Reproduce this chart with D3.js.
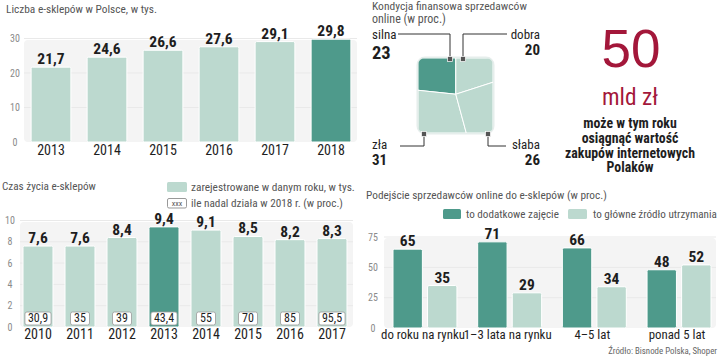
<!DOCTYPE html>
<html><head><meta charset="utf-8">
<script src="https://cdn.jsdelivr.net/npm/d3@7"></script>
<style>
html,body{margin:0;padding:0;background:#fff;}
svg{display:block;}
text{font-family:"Roboto",sans-serif;font-stretch:condensed;}
</style></head>
<body><svg id="c" width="720" height="357"></svg>
<script>
// ---- data ----
const shopYears = ["2013","2014","2015","2016","2017","2018"];
const shopCounts = [21.7, 24.6, 26.6, 27.6, 29.1, 29.8];
const shopTicks = [0, 10, 20, 30];

const lifeYears = ["2010","2011","2012","2013","2014","2015","2016","2017"];
const lifeRegistered = [7.6, 7.6, 8.4, 9.4, 9.1, 8.5, 8.2, 8.3];
const lifeStillActive = ["30,9","35","39","43,4","55","70","85","95,5"];
const lifeTicks = [0, 2, 4, 6, 8, 10];

const condLabels = ["silna","dobra","zła","słaba"];
const condValues = [23, 20, 31, 26];

const approachCats = ["do roku na rynku","1–3 lata na rynku","4–5 lat","ponad 5 lat"];
const approachExtra = [65, 71, 66, 48];
const approachMain = [35, 29, 34, 52];
const approachTicks = [0, 25, 50, 75];
const approachSeries = ["to dodatkowe zajęcie","to główne źródło utrzymania"];

const bigNumber = "50";
const bigUnit = "mld zł";
const bigText = ["może w tym roku","osiągnąć wartość","zakupów internetowych","Polaków"];
const sourceText = "Źródło: Bisnode Polska, Shoper";

// ---- styles ----
const LIGHT = "#bcd9cf", DARK = "#4e9a8b", TXT = "#1e1e1e", GREY = "#555", TICK = "#8a8a8a";
const fmt = v => String(v).replace(".", ",");

const svg = d3.select("#c");

// text helper; optional target width w rescales the font size to fit it
function txt(g, x, y, s, o = {}) {
  const t = g.append("text").attr("x", x).attr("y", y)
    .attr("text-anchor", o.anchor || "start")
    .attr("font-size", o.size || 12)
    .attr("font-weight", o.weight || "normal")
    .attr("fill", o.fill || TXT).text(s);
  if (o.family) t.style("font-family", o.family).style("font-stretch", "normal");
  if (o.w) {
    const m = t.node().getComputedTextLength();
    if (m > 0) t.attr("font-size", (o.size || 12) * o.w / m);
  }
  return t;
}
function fitSize(g, s, size, weight, w) {
  const p = txt(g, 0, -50, s, {size, weight, w});
  const fs = +p.attr("font-size");
  p.remove();
  return fs;
}
function panelBg(g, x0, x1, y0, y1) {
  g.append("rect").attr("x", x0).attr("y", y0).attr("width", x1 - x0).attr("height", y1 - y0)
    .attr("rx", 4).attr("fill", "#f4f4f4");
}
function bar(g, x, y, w, h, fill) {
  g.append("rect").attr("x", x).attr("y", y).attr("width", w).attr("height", h)
    .attr("rx", 1.5).attr("fill", fill).attr("stroke", "#ffffff").attr("stroke-width", 1);
}

// ===== Chart A: Liczba e-sklepów =====
{
  const g = svg.append("g");
  txt(g, 6, 13, "Liczba e-sklepów w Polsce, w tys.", {size: 13, fill: GREY, w: 151});
  const x = d3.scaleBand().domain(shopYears).range([23, 359]).paddingInner(0.29).paddingOuter(0.145);
  const y = d3.scaleLinear().domain([0, 30]).range([142, 38.5]);
  panelBg(g, 24, 357, 40, 142);
  g.selectAll(".gl").data(shopTicks.slice(1)).join("line")
    .attr("x1", 24).attr("x2", 357).attr("y1", d => y(d)).attr("y2", d => y(d))
    .attr("stroke", "#e9e9e9");
  shopTicks.forEach(d => txt(g, 15, y(d) + 3.5, d, {anchor: "middle", size: 10, fill: TICK}));
  shopYears.forEach((yr, i) => {
    const v = shopCounts[i];
    const cx = x(yr) + x.bandwidth() / 2;
    bar(g, x(yr), y(v), x.bandwidth(), y(0) - y(v), i === shopYears.length - 1 ? DARK : LIGHT);
    txt(g, cx, y(v) - 3, fmt(v), {anchor: "middle", size: 15.5, weight: "bold"});
    txt(g, cx, 154.5, yr, {anchor: "middle", size: 14});
  });
}

// ===== Chart B: Czas życia e-sklepów =====
{
  const g = svg.append("g");
  txt(g, 2, 190, "Czas życia e-sklepów", {size: 13, fill: GREY, w: 94});
  g.append("rect").attr("x", 167).attr("y", 182).attr("width", 20).attr("height", 10).attr("rx", 1.5).attr("fill", LIGHT);
  txt(g, 191, 190.5, "zarejestrowane w danym roku, w tys.", {size: 13, fill: GREY, w: 164});
  g.append("rect").attr("x", 167.5).attr("y", 198.5).attr("width", 19).attr("height", 9.5).attr("rx", 1.5)
    .attr("fill", "#fff").attr("stroke", "#999");
  txt(g, 177, 205.8, "xxx", {anchor: "middle", size: 8, fill: GREY});
  txt(g, 191, 207, "ile nadal działa w 2018 r. (w proc.)", {size: 13, fill: GREY, w: 152});

  const x = d3.scaleBand().domain(lifeYears).range([17, 353]).paddingInner(0.286).paddingOuter(0.143);
  const y = d3.scaleLinear().domain([0, 10]).range([327, 220.5]);
  panelBg(g, 20, 353, 222, 327);
  g.selectAll(".gl").data(lifeTicks.slice(1)).join("line")
    .attr("x1", 20).attr("x2", 353).attr("y1", d => y(d)).attr("y2", d => y(d)).attr("stroke", "#e9e9e9");
  lifeTicks.forEach(d => txt(g, 10, y(d) + 3.5, d, {anchor: "middle", size: 10, fill: TICK}));
  lifeYears.forEach((yr, i) => {
    const v = lifeRegistered[i];
    const cx = x(yr) + x.bandwidth() / 2;
    bar(g, x(yr), y(v), x.bandwidth(), y(0) - y(v), v === d3.max(lifeRegistered) ? DARK : LIGHT);
    txt(g, cx, y(v) - 3, fmt(v), {anchor: "middle", size: 15.5, weight: "bold"});
    const box = g.append("rect");
    const t = txt(g, cx, 322.3, lifeStillActive[i], {anchor: "middle", size: 12});
    const w = Math.max(19, t.node().getComputedTextLength() + 6);
    box.attr("x", cx - w / 2).attr("y", 312).attr("width", w).attr("height", 13)
      .attr("rx", 2).attr("fill", "#fff").attr("stroke", "#9a9a9a").attr("stroke-width", 0.8);
    txt(g, cx, 338.5, yr, {anchor: "middle", size: 14});
  });
}

// ===== Chart C: Kondycja finansowa (Voronoi-style treemap) =====
{
  const g = svg.append("g");
  txt(g, 372, 10, "Kondycja finansowa sprzedawców", {size: 12, fill: GREY, w: 155});
  txt(g, 372, 22.5, "online (w proc.)", {size: 12, fill: GREY});

  const total = d3.sum(condValues);
  const [s, d, z] = condValues.map(v => v / total);
  // fixed boundary tilts; split positions solved from the shares
  const tiltL = 0.053, tiltR = 0.16;
  let lo = 0.05, hi = 0.95;
  for (let k = 0; k < 60; k++) {
    const px = (lo + hi) / 2;
    const py = s / px + tiltL / 2;
    const dob = (1 - px) * (py - tiltR / 2);
    if (dob > d) lo = px; else hi = px;
  }
  const px = (lo + hi) / 2, py = s / px + tiltL / 2;
  const bx = px + 2 * (z - px * (1 - py + tiltL / 2)) / (1 - py);
  const P = [px, py], T = [px, 0], L = [0, py - tiltL], R = [1, py - tiltR], B = [bx, 1];
  const cells = [
    [[0, 0], T, P, L],
    [T, [1, 0], R, P],
    [L, P, B, [0, 1]],
    [P, R, [1, 1], B]
  ];
  const sx = d3.scaleLinear().domain([0, 1]).range([418, 493]);
  const sy = d3.scaleLinear().domain([0, 1]).range([58, 133]);
  const clip = g.append("clipPath").attr("id", "sq");
  clip.append("rect").attr("x", 418).attr("y", 58).attr("width", 75).attr("height", 75).attr("rx", 7);
  g.append("rect").attr("x", 416.5).attr("y", 56.5).attr("width", 78).attr("height", 78).attr("rx", 8.5).attr("fill", "#e6eeec");
  const line = d3.line().x(p => sx(p[0])).y(p => sy(p[1]));
  g.append("g").attr("clip-path", "url(#sq)").selectAll("path").data(cells).join("path")
    .attr("d", c => line(c) + "Z")
    .attr("fill", (c, i) => i === 0 ? DARK : LIGHT)
    .attr("stroke", "#fff").attr("stroke-width", 1);

  const lead = pts => g.append("path").attr("d", d3.line()(pts)).attr("fill", "none").attr("stroke", "#333").attr("stroke-width", 1);
  const mk = (x, y) => g.append("rect").attr("x", x - 2.5).attr("y", y - 2.5).attr("width", 5).attr("height", 5)
    .attr("fill", "#555").attr("stroke", "#fff").attr("stroke-width", 0.7);
  lead([[398, 34], [450, 34], [450, 58]]); mk(450, 59);
  lead([[507, 34], [463, 34], [463, 58]]); mk(463, 59);
  lead([[400, 146], [424, 146], [424, 134]]); mk(424, 134);
  lead([[506, 146], [488, 146], [488, 134]]); mk(488, 134);

  txt(g, 372, 39, condLabels[0], {size: 13});
  txt(g, 372, 59, condValues[0], {size: 18.5, weight: "bold"});
  txt(g, 540, 39, condLabels[1], {size: 13, anchor: "end"});
  txt(g, 540, 55, condValues[1], {size: 15, weight: "bold", anchor: "end"});
  txt(g, 372, 148.5, condLabels[2], {size: 13});
  txt(g, 372, 164.5, condValues[2], {size: 15, weight: "bold"});
  txt(g, 540, 148.5, condLabels[3], {size: 13, anchor: "end"});
  txt(g, 540, 164.5, condValues[3], {size: 15, weight: "bold", anchor: "end"});
}

// ===== Big number =====
{
  const g = svg.append("g");
  txt(g, 631, 67, bigNumber, {anchor: "middle", size: 53, fill: "#a3173a", family: "'Liberation Sans',Arial,sans-serif"});
  txt(g, 630, 105, bigUnit, {anchor: "middle", size: 23, fill: "#a3173a", w: 56});
  const fs = fitSize(g, bigText[2], 14, "bold", 130);
  bigText.forEach((t, i) => txt(g, 630, 128 + i * 14.8, t, {anchor: "middle", size: fs, weight: "bold"}));
}

// ===== Chart D: Podejście sprzedawców =====
{
  const g = svg.append("g");
  txt(g, 366, 199, "Podejście sprzedawców online do e-sklepów (w proc.)", {size: 13, fill: GREY, w: 241});
  g.append("rect").attr("x", 443).attr("y", 209).attr("width", 18).attr("height", 10).attr("rx", 1.5).attr("fill", DARK);
  txt(g, 466, 217.5, approachSeries[0], {size: 13, fill: GREY, w: 93});
  g.append("rect").attr("x", 568).attr("y", 209).attr("width", 19).attr("height", 10).attr("rx", 1.5).attr("fill", LIGHT);
  txt(g, 593, 217.5, approachSeries[1], {size: 13, fill: GREY, w: 124});

  const x0 = d3.scaleBand().domain(approachCats).range([393, 711]).paddingInner(0.245).paddingOuter(0);
  const x1 = d3.scaleBand().domain([0, 1]).range([0, x0.bandwidth()]).paddingInner(0.15);
  const y = d3.scaleLinear().domain([0, 75]).range([328, 237]);
  panelBg(g, 384, 716, 238, 328);
  g.selectAll(".gl").data(approachTicks.slice(1)).join("line")
    .attr("x1", 384).attr("x2", 716).attr("y1", d => y(d)).attr("y2", d => y(d)).attr("stroke", "#e9e9e9");
  approachTicks.forEach(d => txt(g, 373, y(d) + 3.5, d, {anchor: "middle", size: 10, fill: TICK}));
  const catSize = fitSize(g, approachCats[1], 13, "normal", 88);
  approachCats.forEach((c, i) => {
    [approachExtra[i], approachMain[i]].forEach((v, j) => {
      const bx = x0(c) + x1(j);
      bar(g, bx, y(v), x1.bandwidth(), y(0) - y(v), j === 0 ? DARK : LIGHT);
      txt(g, bx + x1.bandwidth() / 2, y(v) - 3, v, {anchor: "middle", size: 15.5, weight: "bold"});
    });
    txt(g, x0(c) + x0.bandwidth() / 2 - 2, 339, c, {anchor: "middle", size: catSize});
  });
  txt(g, 717, 354, sourceText, {anchor: "end", size: 11, fill: "#666", w: 109});
}
</script></body></html>
